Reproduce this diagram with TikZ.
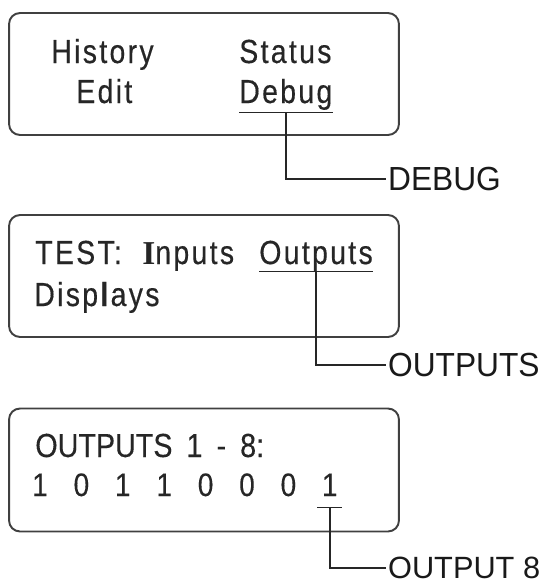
\documentclass[tikz,border=0pt]{standalone}
\usepackage{fontspec}
\setmainfont{Liberation Sans}
\newfontfamily\lcdfont[LetterSpace=7,FakeStretch=0.85,FakeBold=0.4]{Liberation Sans}
\newfontfamily\cursorfont{Liberation Serif}
\newfontfamily\rowfont[FakeStretch=0.86,FakeBold=0.2]{Liberation Sans}
\newfontfamily\tagfont[FakeStretch=0.95]{Liberation Sans}

\begin{document}
\begin{tikzpicture}[x=0.02cm, y=-0.02cm,
    panel/.style={draw=black!75, line width=1.1pt, rounded corners=0.22cm, minimum width=7.8cm, minimum height=2.44cm},
    menu/.style={anchor=base west, inner sep=0pt, text=black!85, font=\lcdfont\fontsize{19}{22}\selectfont},
    row/.style={anchor=base west, inner sep=0pt, text=black!85, font=\rowfont\fontsize{19}{22}\selectfont},
    bit/.style={anchor=base, inner sep=0pt, minimum width=0.48cm, text depth=0.22cm, text=black!85, font=\rowfont\fontsize{18.5}{22}\selectfont},
    tag/.style={anchor=west, inner xsep=1pt, inner ysep=0pt, text=black!90, font=\tagfont\fontsize{19}{22}\selectfont},
    uline/.style={draw=black!85, line width=0.8pt},
    lead/.style={draw=black!85, line width=0.8pt}]
    \useasboundingbox (0,0) rectangle (549,585);

    % main menu
    \node[panel] (menu) at (204,74) {};
    \node[menu] (history) at (51,63) {History};
    \node[menu] (status) at (239,63) {Status};
    \node[menu] (edit) at (76,103) {Edit};
    \node[menu, text depth=0.18cm] (debug) at (239,103) {Debug};
    \draw[uline] (debug.south west) -- (debug.south east);
    \node[tag] (tagdebug) at (386,179) {DEBUG};
    \draw[lead] (debug.south) |- (tagdebug.west);

    % debug menu
    \node[panel] (test) at (204,276) {};
    \node[menu] (testlbl) at (35,264) {TEST:};
    \node[menu] (inputs) at (142,264) {{\cursorfont\bfseries I}nputs};
    \node[menu, text depth=0.14cm] (outputs) at (259,264) {Outputs};
    \node[menu] (displays) at (34,306) {Disp\textbf{l}ays};
    \draw[uline] (outputs.south west) -- (outputs.south east);
    \node[tag] (tagoutputs) at (386,365) {OUTPUTS};
    \draw[lead] (outputs.south) |- (tagoutputs.west);

    % output states
    \node[panel, minimum height=2.46cm] (states) at (204,470) {};
    \node[row] (range) at (35,457) {\spaceskip=8pt OUTPUTS 1 - 8:};
    \foreach \b [count=\i] in {1,0,1,1,0,0,0,1}
      \node[bit] (bit\i) at ({40+41.4*(\i-1)},496) {\b};
    \draw[uline] (bit8.south west) -- (bit8.south east);
    \node[tag, font=\fontsize{17.5}{20}\selectfont] (tagbit) at (386,568) {OUTPUT 8};
    \draw[lead] (bit8.south) |- (tagbit.west);
\end{tikzpicture}
\end{document}
